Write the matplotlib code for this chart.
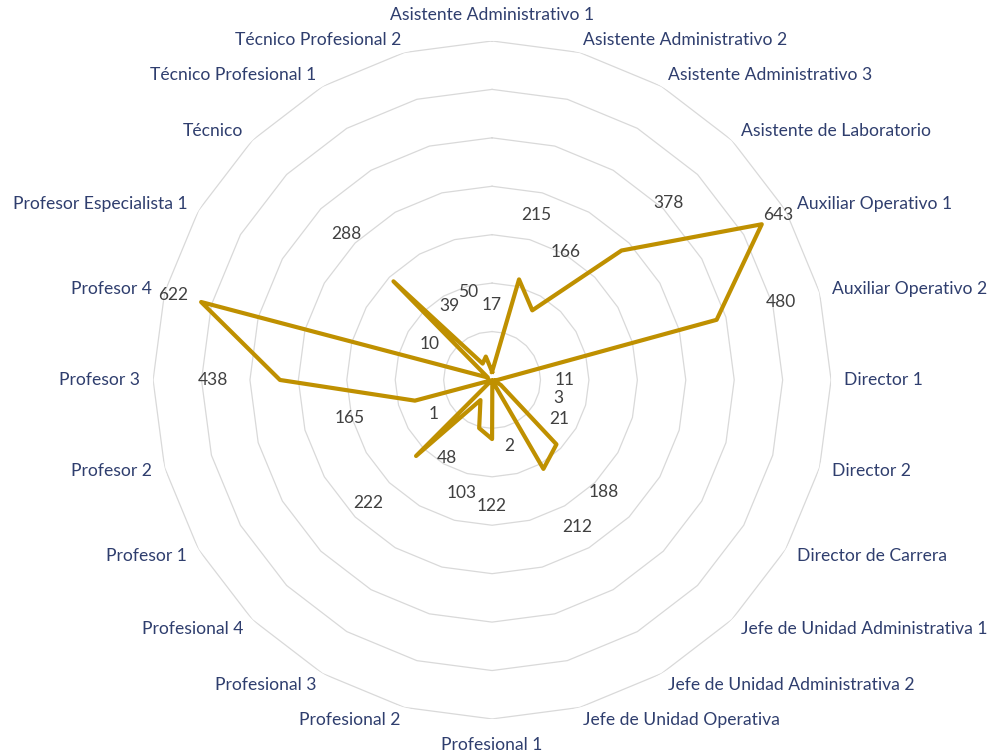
import numpy as np
import matplotlib.pyplot as plt

plt.rcParams["font.family"] = ["Lato", "DejaVu Sans"]

categories = [
    "Asistente Administrativo 1", "Asistente Administrativo 2", "Asistente Administrativo 3",
    "Asistente de Laboratorio", "Auxiliar Operativo 1", "Auxiliar Operativo 2",
    "Director 1", "Director 2", "Director de Carrera",
    "Jefe de Unidad Administrativa 1", "Jefe de Unidad Administrativa 2", "Jefe de Unidad Operativa",
    "Profesional 1", "Profesional 2", "Profesional 3", "Profesional 4",
    "Profesor 1", "Profesor 2", "Profesor 3", "Profesor 4",
    "Profesor Especialista 1", "Técnico", "Técnico Profesional 1", "Técnico Profesional 2",
]
values = [17, 215, 166, 378, 643, 480, 11, 3, 21, 188, 212, 2,
          122, 103, 48, 222, 1, 165, 438, 622, 10, 288, 39, 50]
ring_levels = [100, 200, 300, 400, 500, 600, 700]

LINE_COLOR = "#BF9000"
GRID_COLOR = "#D9D9D9"
CAT_COLOR = "#2F3E6E"
LABEL_COLOR = "#404040"

n = len(categories)
angles = np.arange(n) * 2 * np.pi / n
closed = np.append(angles, angles[0])

fig = plt.figure(figsize=(9.92, 7.53), dpi=100)
ax = fig.add_axes([0.1543, 0.0452, 0.6835, 0.9004], projection="polar")
ax.set_theta_zero_location("N")
ax.set_theta_direction(-1)
rmax = ring_levels[-1]
ax.set_ylim(0, rmax)
ax.axis("off")

# polygon gridlines like the excel radar
for lvl in ring_levels:
    ax.plot(closed, [lvl] * (n + 1), color=GRID_COLOR, lw=0.9, zorder=1)

ax.plot(closed, np.append(values, values[0]), color=LINE_COLOR, lw=3, zorder=3)

# pixels -> data units (outer ring is ~339 px)
unit = rmax / 339.0

for a, v in zip(angles, values):
    r = min(v + 67 * unit, 330 * unit)
    ax.text(a, r, str(v), ha="center", va="center", fontsize=12.5,
            color=LABEL_COLOR, zorder=4)

for a, cat in zip(angles, categories):
    s, c = np.sin(a), np.cos(a)
    if abs(s) < 1e-6:
        ha = "center"
        va = "bottom" if c > 0 else "top"
        r = rmax + 18 * unit
    else:
        ha = "left" if s > 0 else "right"
        va = "center"
        r = rmax + 13 * unit
    ax.text(a, r, cat, ha=ha, va=va, fontsize=12.6, color=CAT_COLOR)

fig.savefig("out.png", dpi=100, facecolor="white")
